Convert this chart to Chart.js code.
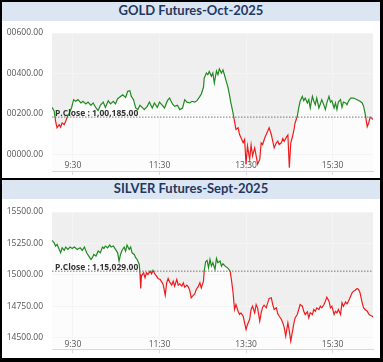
<!DOCTYPE html>
<html>
<head>
<meta charset="utf-8">
<script src="https://cdn.jsdelivr.net/npm/chart.js@4.4.1/dist/chart.umd.min.js"></script>
<style>
  html, body { margin: 0; padding: 0; background: #fff; }
  #frame { position: relative; width: 383px; height: 362px; background: #000; overflow: hidden; }
  .panel { position: absolute; left: 2px; width: 378px; background: #fff; }
  #goldPanel { top: 2px; height: 176px; }
  #silverPanel { top: 180px; height: 178px; }
  .head { height: 19px; line-height: 19px; background: #dce6f2; color: #1f3864;
          font: bold 13px Lato, sans-serif; text-align: center; }
  .plot { position: absolute; left: 5px; top: 19px; width: 370px; overflow: hidden; }
</style>
</head>
<body>
<div id="frame">
  <div class="panel" id="goldPanel">
    <div class="head" id="goldTitle"></div>
    <div class="plot"><canvas id="goldChart" width="370" height="157"></canvas></div>
  </div>
  <div class="panel" id="silverPanel">
    <div class="head" id="silverTitle"></div>
    <div class="plot"><canvas id="silverChart" width="370" height="159"></canvas></div>
  </div>
</div>
<script>
// titles
const goldName = "GOLD Futures-Oct-2025";
const silverName = "SILVER Futures-Sept-2025";

// previous close
const goldPrevClose = 100185;
const silverPrevClose = 115029;

// axis ticks (x in minutes after midnight)
const timeTicks = [570, 690, 810, 930];
const goldTicks = [100000, 100200, 100400, 100600];
const silverTicks = [114500, 114750, 115000, 115250, 115500];
const goldRange = [99919, 100600];
const silverRange = [114407, 115500];

// intraday prices
const goldTimes = [541,544,546,548,551,553,555,558,560,562,565,568,571,574,577,581,584,588,591,595,
  598,602,605,608,612,615,619,622,626,629,632,636,639,643,646,649,651,654,657,660,
  663,666,669,673,676,680,683,687,690,694,697,701,704,708,711,715,718,722,725,728,
  732,735,739,742,746,748,751,752,755,757,759,762,764,766,769,771,773,776,778,780,
  782,785,787,789,792,794,796,799,801,803,806,808,810,812,815,817,819,822,824,826,
  829,831,833,836,838,840,842,845,847,849,852,854,856,859,861,863,866,868,870,872,
  874,876,878,881,883,885,888,890,892,895,897,899,902,904,906,908,911,913,915,918,
  920,922,925,927,929,932,934,936,938,941,943,945,948,950,952,955,959,964,968,971,
  973,975,978,980,982,984,986];
const goldPrices = [100233,100214,100164,100132,100148,100135,100156,100148,100164,100184,
  100205,100230,100271,100263,100271,100255,100263,100250,100259,100243,
  100255,100230,100217,100243,100259,100233,100266,100250,100263,100250,
  100276,100287,100295,100282,100312,100315,100287,100271,100230,100222,
  100243,100233,100222,100238,100259,100230,100255,100233,100259,100243,
  100230,100266,100279,100250,100238,100243,100222,100230,100271,100259,
  100255,100263,100259,100266,100287,100299,100332,100377,100402,100394,
  100410,100386,100402,100353,100413,100394,100423,100402,100418,100394,
  100369,100332,100295,100255,100205,100164,100124,100132,100099,100083,
  100058,100074,99952,100042,99976,100047,99993,100033,99993,99952,
  99976,100058,100050,100083,100099,100115,100132,100099,100066,100033,
  100058,100066,100050,100058,100079,100066,100086,100096,99935,100058,
  100083,100115,100156,100189,100230,100263,100287,100266,100279,100255,
  100271,100230,100287,100263,100246,100279,100230,100250,100271,100243,
  100222,100255,100287,100259,100266,100230,100255,100222,100259,100271,
  100233,100259,100255,100246,100263,100279,100279,100271,100263,100255,
  100238,100205,100138,100156,100184,100181,100173];

const silverTimes = [541,544,546,548,551,553,555,558,560,563,566,569,572,576,580,583,586,589,592,595,
  597,599,602,605,608,611,613,615,618,621,623,626,629,632,634,636,638,641,643,645,
  648,650,652,655,657,659,662,663,664,665,668,670,672,674,677,679,681,684,686,688,
  691,693,695,698,700,702,704,707,709,711,714,716,718,721,723,725,728,730,732,734,
  737,739,741,744,746,748,751,752,754,756,758,760,762,764,767,769,771,774,776,778,
  781,783,785,788,790,792,794,796,799,801,803,806,808,810,812,815,817,819,822,824,
  826,829,831,833,835,838,840,842,845,847,849,852,854,856,859,861,863,865,868,870,
  872,874,876,878,881,883,885,888,890,892,895,897,899,902,904,906,908,911,913,915,
  918,920,922,925,927,929,932,934,936,938,941,943,945,948,950,952,955,957,959,961,
  964,966,968,971,973,975,978,980,982,985,986];
const silverPrices = [115274,115255,115229,115242,115202,115175,115215,115194,115221,115202,
  115221,115210,115221,115202,115215,115194,115221,115175,115149,115122,
  115136,115162,115149,115189,115175,115221,115210,115229,115215,115237,
  115221,115229,115202,115175,115109,115162,115194,115221,115189,115237,
  115202,115221,115175,115162,115136,115122,115082,115003,114891,114989,
  115016,114976,115016,115003,115029,115008,115035,115003,114989,114971,
  114963,114944,114923,114838,114936,114971,114944,114918,114950,114910,
  114963,114918,114928,114910,114936,114902,114918,114902,114875,114817,
  114838,114849,114883,114910,114936,114896,114950,115029,115104,115114,
  115056,115122,115069,115096,115043,115130,115096,115109,115069,115088,
  115069,115061,115051,115029,114950,114857,114724,114763,114710,114684,
  114697,114670,114617,114564,114604,114644,114724,114750,114697,114763,
  114737,114631,114697,114742,114758,114737,114777,114811,114817,114763,
  114724,114737,114689,114670,114644,114617,114577,114511,114617,114551,
  114471,114538,114604,114657,114684,114724,114763,114750,114710,114684,
  114705,114657,114697,114684,114724,114710,114737,114724,114750,114737,
  114763,114790,114822,114790,114737,114750,114684,114710,114697,114724,
  114684,114777,114750,114785,114769,114790,114830,114857,114870,114875,
  114891,114883,114857,114777,114737,114724,114710,114689,114678,114670,
  114662];

const GREEN = "#1f8b1f";
const RED = "#ee1c1c";

Chart.defaults.font.family = '"Open Sans", sans-serif';
Chart.defaults.animation = false;

// indian digit grouping: 1,00,185.00
function inr(v) {
  const parts = v.toFixed(2).split(".");
  const last3 = parts[0].slice(-3);
  const rest = parts[0].slice(0, -3);
  return (rest ? rest.replace(/\B(?=(\d{2})+(?!\d))/g, ",") + "," : "") + last3 + "." + parts[1];
}

function hhmm(v) {
  return Math.floor(v / 60) + ":" + String(v % 60).padStart(2, "0");
}

// green above previous close, red below
function splitColor(chart, level) {
  const area = chart.chartArea;
  if (!area) return GREEN;
  const y = chart.scales.y.getPixelForValue(level);
  let stop = (y - area.top) / (area.bottom - area.top);
  stop = Math.min(Math.max(stop, 0), 1);
  const g = chart.ctx.createLinearGradient(0, area.top, 0, area.bottom);
  g.addColorStop(0, GREEN);
  g.addColorStop(stop, GREEN);
  g.addColorStop(stop, RED);
  g.addColorStop(1, RED);
  return g;
}

function makeChart(id, times, prices, prevClose, yTicks, yRange, padTop, axisHeight, labelPad) {
  const pts = times.map((t, i) => ({ x: t, y: prices[i] }));
  const first = times[0];
  const last = times[times.length - 1];

  const closeLabel = {
    id: "closeLabel",
    afterDatasetsDraw(chart) {
      const ctx = chart.ctx;
      const y = chart.scales.y.getPixelForValue(prevClose);
      ctx.save();
      ctx.font = 'bold 8.5px "Open Sans", sans-serif';
      ctx.fillStyle = "#333";
      ctx.textBaseline = "alphabetic";
      ctx.fillText("P.Close : " + inr(prevClose), chart.chartArea.left + 3, y - 1);
      ctx.restore();
    }
  };

  return new Chart(document.getElementById(id), {
    type: "line",
    data: {
      datasets: [
        {
          data: pts,
          borderColor: (c) => splitColor(c.chart, prevClose),
          borderWidth: 1.2,
          pointRadius: 0,
          fill: "end",
          backgroundColor: "#efefef"
        },
        {
          data: [{ x: first, y: prevClose }, { x: last, y: prevClose }],
          borderColor: "#777",
          borderWidth: 1,
          borderDash: [1.5, 1.5],
          pointRadius: 0,
          fill: false
        },
        {
          data: pts,
          borderColor: "rgba(0,0,0,0)",
          borderWidth: 0,
          pointRadius: 0,
          fill: "start",
          backgroundColor: "#fcfcfc"
        }
      ]
    },
    options: {
      responsive: false,
      layout: { padding: { top: padTop, right: 4, left: 0, bottom: 0 } },
      plugins: {
        legend: { display: false },
        tooltip: { enabled: false },
        filler: { drawTime: "beforeDraw" }
      },
      scales: {
        x: {
          type: "linear",
          min: first,
          max: last,
          afterBuildTicks: (s) => { s.ticks = timeTicks.map((v) => ({ value: v })); },
          afterFit: (s) => { s.height = axisHeight; },
          ticks: {
            callback: (v) => hhmm(v),
            color: "#555",
            font: { size: 8.5 },
            mirror: true,
            padding: labelPad,
            maxRotation: 0,
            autoSkip: false
          },
          grid: { color: "#f4f4f4", tickColor: "#dcdcdc", tickLength: 4 },
          border: { color: "#d9d9d9" }
        },
        y: {
          min: yRange[0],
          max: yRange[1],
          afterBuildTicks: (s) => { s.ticks = yTicks.map((v) => ({ value: v })); },
          afterFit: (s) => { s.width = 45; },
          ticks: {
            callback: (v) => v.toFixed(2),
            color: "#555",
            font: { size: 8.5 },
            padding: 0
          },
          grid: { color: "#f4f4f4", drawTicks: true, tickLength: 9, tickColor: "rgba(0,0,0,0)" },
          border: { display: false }
        }
      }
    },
    plugins: [closeLabel]
  });
}

document.getElementById("goldTitle").textContent = goldName;
document.getElementById("silverTitle").textContent = silverName;

makeChart("goldChart", goldTimes, goldPrices, goldPrevClose, goldTicks, goldRange, 12, 7, 0.5);
makeChart("silverChart", silverTimes, silverPrices, silverPrevClose, silverTicks, silverRange, 13, 8.7, 0);
</script>
</body>
</html>
